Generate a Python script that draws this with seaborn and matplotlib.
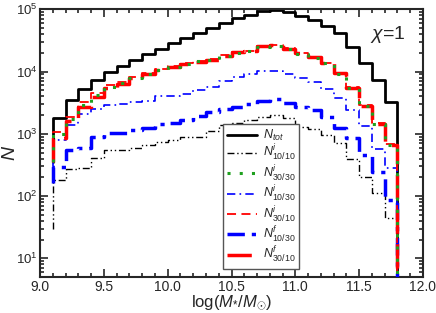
import numpy as np
import matplotlib
matplotlib.use("Agg")
import matplotlib.pyplot as plt
import seaborn as sns

# bin edges in log(M*/Msun)
edges = [9.1, 9.2, 9.3, 9.4, 9.5, 9.6, 9.7, 9.8, 9.9, 10.0, 10.1, 10.2, 10.3, 10.4,
         10.5, 10.6, 10.7, 10.8, 10.9, 11.0, 11.1, 11.2, 11.3, 11.4, 11.5, 11.6, 11.7, 11.8]

n_tot = [1770, 3560, 5260, 7350, 10000, 12500, 15400, 19100, 23500, 28700, 34600, 41600, 50700, 61000,
         72600, 82200, 93500, 97100, 89500, 79100, 66500, 53200, 41600, 25000, 13600, 7210, 3300]
n_i_1010 = [180, 275, 280, 410, 550, 560, 600, 660, 750, 790, 890, 900, 1120, 1380,
            1480, 1660, 1870, 2040, 1820, 1290, 1200, 950, 720, 400, 205, 110, 44]
n_i_3030 = [980, 1700, 2900, 4200, 5700, 6500, 8000, 9300, 10700, 12000, 13300, 14600, 15600, 17800,
            20000, 21200, 25300, 26000, 23300, 19400, 16700, 13600, 9300, 5400, 2800, 1420, 660]
n_i_1030 = [800, 1380, 2100, 2500, 2900, 3000, 3300, 3400, 4000, 4000, 4370, 5050, 5600, 7000,
            8300, 9300, 10100, 10400, 9200, 7800, 6900, 5300, 3700, 2400, 1320, 570, 285]
n_i_3010 = [1080, 1880, 3210, 4580, 6110, 6830, 8300, 9630, 11060, 12370, 13650, 15040, 16020, 18250,
            20550, 21810, 26000, 26680, 23850, 19820, 17070, 13970, 9630, 5600, 2900, 1470, 680]
n_f_1030 = [295, 550, 590, 880, 1050, 1050, 1150, 1230, 1450, 1480, 1650, 1940, 2250, 2500,
            2650, 3000, 3400, 3600, 3100, 2700, 2450, 1850, 1250, 870, 450, 245, 85]
n_f_3010 = [850, 1600, 2690, 3900, 5460, 6330, 7760, 9010, 10480, 11700, 13060, 14320, 15440, 17590,
            20300, 21500, 25600, 26300, 23500, 19600, 16900, 13800, 9500, 5500, 2850, 1450, 670]

# level where each curve's left edge starts, and the drop after the last bin
start = {"tot": 350, "i1010": 30, "i3030": 350, "i1030": 300, "i3010": 350, "f1030": 160, "f3010": 350}
floor = 1

labels = [r"$N_{tot}$", r"$N^{i}_{10/10}$", r"$N^{i}_{30/30}$", r"$N^{i}_{10/30}$",
          r"$N^{i}_{30/10}$", r"$N^{f}_{10/30}$", r"$N^{f}_{30/10}$"]

sns.set_style("ticks")
plt.rcParams["font.family"] = ["Liberation Sans", "DejaVu Sans"]
plt.rcParams["mathtext.fontset"] = "custom"
plt.rcParams["mathtext.rm"] = "Liberation Sans"
plt.rcParams["mathtext.it"] = "Liberation Sans:italic"
plt.rcParams["mathtext.bf"] = "Liberation Sans:bold"

fig = plt.figure(figsize=(4.36, 3.13), dpi=100)
ax = fig.add_axes([0.092, 0.115, 0.878, 0.855])

series = [
    ("tot", n_tot, "black", 2.0, "-", 2),
    ("i1010", n_i_1010, "black", 1.0, (0, (5, 2, 1, 2, 1, 2)), 3),
    ("i3030", n_i_3030, "#1fa01f", 2.2, (0, (1, 3)), 9),
    ("i1030", n_i_1030, "blue", 1.2, (0, (5, 2.5, 1, 2.5)), 4),
    ("i3010", n_i_3010, "red", 1.3, (0, (5, 3)), 7),
    ("f1030", n_f_1030, "blue", 2.5, (0, (5, 2, 1.2, 2)), 5),
    ("f3010", n_f_3010, "red", 2.5, (0, (7, 3)), 8),
]

for (key, vals, col, lw, ls, z), lab in zip(series, labels):
    x = [edges[0]] + edges
    y = [start[key]] + vals + [floor]
    sns.lineplot(x=x, y=y, ax=ax, color=col, linewidth=lw, linestyle=ls, label=lab,
                 drawstyle="steps-post", sort=False, estimator=None, zorder=z)

ax.set_yscale("log")
ax.set_xlim(9.0, 12.0)
ax.set_ylim(5, 1e5)
ax.set_xticks([9.0, 9.5, 10.0, 10.5, 11.0, 11.5, 12.0])
ax.set_xticklabels(["9.0", "9.5", "10.0", "10.5", "11.0", "11.5", "12.0"])
ax.xaxis.set_minor_locator(matplotlib.ticker.MultipleLocator(0.1))
ax.tick_params(which="both", direction="in", top=True, right=True, labelsize=10, width=1.2, pad=2)
ax.tick_params(axis="y", which="both", labelsize=9.5, pad=1.5)
ax.tick_params(which="major", length=6)
ax.tick_params(which="minor", length=3)
for sp in ax.spines.values():
    sp.set_linewidth(1.5)

ax.set_xlabel(r"log($M_{*}/M_{\odot}$)", fontsize=12, labelpad=0)
ax.set_ylabel(r"$N$", fontsize=14)
ax.yaxis.set_label_coords(-0.055, 0.465)
ax.text(0.955, 0.905, r"$\chi$=1", transform=ax.transAxes, ha="right", va="center", fontsize=14)

leg = ax.legend(loc="lower left", bbox_to_anchor=(0.478, 0.03), fontsize=9, frameon=True,
                fancybox=False, edgecolor="#555555", framealpha=1, labelspacing=0.02,
                handlelength=2.4, borderpad=0.3, handletextpad=0.5, borderaxespad=0)
leg.get_frame().set_linewidth(1.0)

fig.savefig("out.png", dpi=100)
